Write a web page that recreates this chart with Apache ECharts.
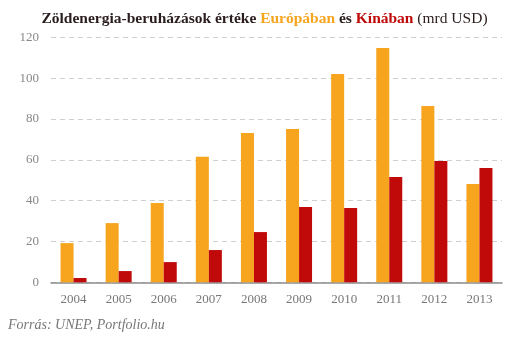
<!DOCTYPE html>
<html><head><meta charset="utf-8">
<script src="https://cdn.jsdelivr.net/npm/echarts@6/dist/echarts.min.js"></script>
<style>html,body{margin:0;padding:0;background:#fff}#c{width:529px;height:340px}</style>
</head><body><div id="c"></div>
<script>
const years = ['2004','2005','2006','2007','2008','2009','2010','2011','2012','2013'];
const europe = [19.2, 29.0, 38.8, 61.5, 73.1, 75.1, 102.0, 114.8, 86.3, 48.1];
const china = [2.1, 5.5, 9.9, 15.8, 24.6, 36.9, 36.4, 51.6, 59.4, 56.0];
const yTicks = [0, 20, 40, 60, 80, 100, 120];

const serif = "'Liberation Serif','DejaVu Serif',serif";
const chart = echarts.init(document.getElementById('c'), null, {renderer:'canvas'});
chart.setOption({
  animation:false,
  title:{
    left:'center', top:6,
    text:'{a|Zöldenergia-beruházások értéke }{o|Európában}{a| és }{r|Kínában}{n| (mrd USD)}',
    textStyle:{
      rich:{
        a:{fontFamily:serif,fontWeight:'bold',fontSize:15.5,color:'#2b1d1d'},
        o:{fontFamily:serif,fontWeight:'bold',fontSize:15.5,color:'#F7A51F'},
        r:{fontFamily:serif,fontWeight:'bold',fontSize:15.5,color:'#C00A0A'},
        n:{fontFamily:serif,fontWeight:'normal',fontSize:15.5,color:'#2b1d1d'}
      }
    }
  },
  graphic:[{type:'text',left:8,top:318,style:{text:'Forrás: UNEP, Portfolio.hu',font:"italic 14px 'Liberation Serif','DejaVu Serif',serif",fill:'#777'}}],
  grid:{left:51,right:27,top:37.3,bottom:57.7},
  xAxis:{
    type:'category', data:years,
    axisLine:{lineStyle:{color:'#8c8c8c',width:1.5}},
    axisTick:{show:false},
    axisLabel:{color:'#777',fontFamily:serif,fontSize:13,margin:11}
  },
  yAxis:{
    type:'value', min:0, max:120, interval:20,
    axisLine:{show:false}, axisTick:{show:false},
    splitLine:{lineStyle:{color:'#cfcfcf',type:[5,4]}},
    axisLabel:{color:'#888',fontFamily:serif,fontSize:13,margin:12,
      formatter:v=>yTicks.includes(v)?String(v):''}
  },
  series:[
    {name:'Európa',type:'bar',data:europe,barWidth:13,barGap:'0%',itemStyle:{color:'#F7A51F'}},
    {name:'Kína',type:'bar',data:china,barWidth:13,barGap:'0%',itemStyle:{color:'#C00A0A'}}
  ]
});
</script></body></html>
